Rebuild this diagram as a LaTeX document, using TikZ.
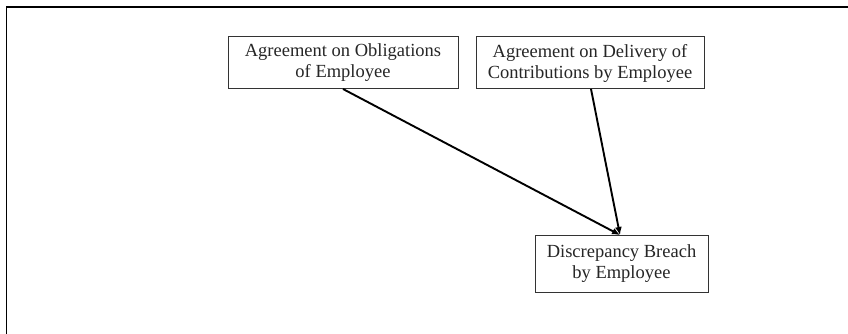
\documentclass[tikz,border=0pt]{standalone}
\usepackage{fontspec}
\setmainfont{Liberation Serif}
\usetikzlibrary{arrows.meta}
\begin{document}
\begin{tikzpicture}[x=1pt,y=-1pt,
  box/.style={draw=black!80,line width=1pt,fill=white,align=center,
    font=\fontsize{18.5}{21}\selectfont,text=black!85,inner sep=0pt},
  link/.style={line width=1.9pt,-{Latex[length=8pt,width=7pt]}}]
  \useasboundingbox (0,0) rectangle (848,334);
  % open frame: top and left edges only
  \draw[line width=1.2pt] (6.5,334) -- (6.5,7) -- (848,7);
  \node[box,minimum width=230,minimum height=52] (obl) at (343,63)
    {Agreement on Obligations\\of Employee};
  \node[box,minimum width=228,minimum height=52] (del) at (590,63)
    {Agreement on Delivery of\\Contributions by Employee};
  \node[box,minimum width=173,minimum height=57] (br) at (621.5,263.5)
    {Discrepancy Breach\\by Employee};
  \coordinate (tip) at (620,235);
  \draw[link] (343,89) -- (tip);
  \draw[link] (591,89) -- (tip);
\end{tikzpicture}
\end{document}
